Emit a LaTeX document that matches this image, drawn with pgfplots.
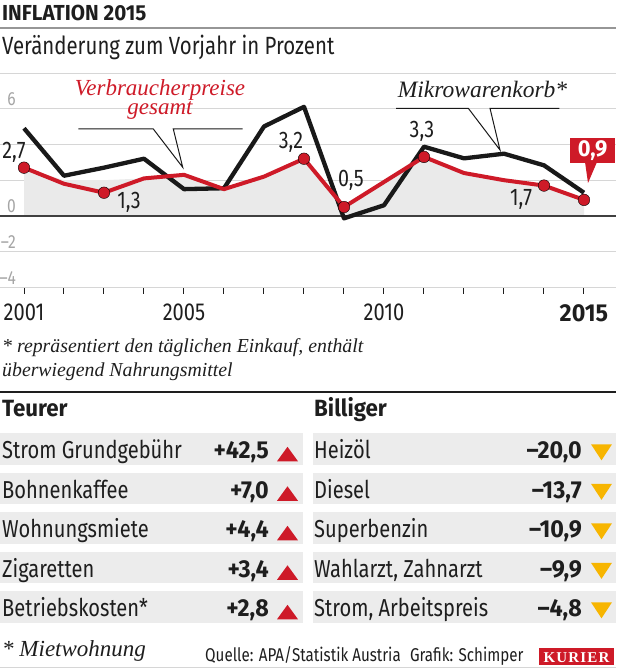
\documentclass[border=0pt]{standalone}
\usepackage{pgfplots}
\pgfplotsset{compat=1.18}
\usepackage{fontspec}
\setmainfont{Fira Sans}[FakeStretch=0.82, BoldFeatures={FakeStretch=0.95}]
\newfontfamily\sit{Liberation Serif}
\newfontfamily\kur{Liberation Serif}[LetterSpace=8]
\definecolor{kred}{RGB}{206,26,40}
\definecolor{kyel}{RGB}{247,181,0}
\definecolor{txt}{RGB}{30,30,30}
\definecolor{blk}{RGB}{25,25,25}
\definecolor{rowgray}{RGB}{236,236,236}
\definecolor{fillgray}{RGB}{234,234,234}
\definecolor{gridgray}{RGB}{214,214,214}
\definecolor{ylab}{RGB}{165,165,165}
\definecolor{linegray}{RGB}{150,150,150}
\newcommand\fs[1]{\fontsize{#1}{#1}\selectfont}
\begin{document}
\begin{tikzpicture}
\path[use as bounding box] (0,0) rectangle (616pt,668pt);
% chart
\begin{axis}[
  at={(0pt,380.4pt)}, anchor=south west,
  scale only axis, width=616pt, height=214.8pt,
  xmin=2000.4, xmax=2015.8, ymin=-4, ymax=8,
  axis line style={draw=none},
  xtick={2001,...,2015},
  xticklabels={2001,,,,2005,,,,,2010,,,,,\textbf{2015}},
  xtick pos=left, tick align=outside,
  major tick length=6pt,
  x tick style={draw=txt, line width=1pt},
  xticklabel style={font=\fs{24.5}, text=txt, anchor=north, yshift=-7pt},
  ytick={-4,-2,0,2,4,6},
  yticklabels={{\textendash4},{\textendash2},0,,,6},
  y tick style={draw=none},
  ytick pos=left,
  yticklabel style={font=\fs{19}, text=ylab, anchor=south east, inner sep=0pt, xshift=22pt, yshift=3pt},
  ymajorgrids, grid style={draw=gridgray, line width=0.8pt},
  clip=false,
]
\addplot[fill=fillgray, draw=none, forget plot] coordinates {(2001,0) (2001,2.7) (2002,2.0) (2003,2.0) (2004,2.1) (2005,2.3) (2006,1.5) (2007,2.2) (2008,3.2) (2009,0.5) (2010,1.9) (2011,3.3) (2012,2.4) (2013,2.0) (2014,1.7) (2015,0.9) (2015,0)};
\addplot[draw=black!75, line width=1.5pt, forget plot] coordinates {(2000.4,0) (2015.8,0)};
% Mikrowarenkorb
\addplot[draw=blk, line width=4.3pt, line join=round] coordinates {(2001,4.9) (2002,2.25) (2003,2.7) (2004,3.2) (2005,1.5) (2006,1.55) (2007,5.0) (2008,6.1) (2009,-0.13) (2010,0.6) (2011,3.87) (2012,3.22) (2013,3.48) (2014,2.83) (2015,1.3)};
% Verbraucherpreise
\addplot[draw=kred, line width=4pt, line join=round] coordinates {(2001,2.7) (2002,1.8) (2003,1.3) (2004,2.1) (2005,2.3) (2006,1.5) (2007,2.2) (2008,3.2) (2009,0.5) (2010,1.9) (2011,3.3) (2012,2.4) (2013,2.0) (2014,1.7) (2015,0.9)};
\addplot[only marks, mark=*, mark size=5.8pt, mark options={fill=kred, draw=none}] coordinates {(2001,2.7) (2003,1.3) (2008,3.2) (2009,0.5) (2011,3.3) (2014,1.7) (2015,0.9)};
\end{axis}
\begin{scope}[x=1pt, y=-1pt, yshift=668pt]
% header
\node[anchor=base west, inner sep=0, font=\fs{21.7}\bfseries, text=txt] at (2,20.7) {INFLATION 2015};
\draw[linegray, line width=1.5pt] (0,28) -- (616,28);
\node[anchor=base west, inner sep=0, font=\fs{24.9}, text=txt] at (2,55) {Veränderung zum Vorjahr in Prozent};
\draw[gridgray, line width=0.8pt] (0,73) -- (616,73);
% data labels
\begin{scope}[every node/.style={inner sep=0, font=\fs{24}, text=txt}]
\node at (14,152) {2,7};
\node at (129,202) {1,3};
\node at (291,142) {3,2};
\node at (351,180) {0,5};
\node at (422,131) {3,3};
\node at (521,199) {1,7};
\end{scope}
% callouts
\draw[blk, line width=1pt, line join=miter] (78.3,129) -- (153.3,129) -- (182.7,167.3) -- (173.3,129) -- (242.7,129);
\draw[blk, line width=1pt, line join=miter] (396,108.3) -- (468.3,108.3) -- (500,150) -- (490,108.3) -- (559.3,108.3);
\node[anchor=base, inner sep=0, font=\sit\itshape\fs{23}, text=kred] at (160,95.5) {Verbraucherpreise};
\node[anchor=base, inner sep=0, font=\sit\itshape\fs{23}, text=kred] at (160,115) {gesamt};
\node[anchor=base, inner sep=0, font=\sit\itshape\fs{23.5}, text=txt] at (482.5,98) {Mikrowarenkorb*};
\fill[kred] (570,138) rectangle (615,163);
\fill[kred] (585,162) -- (597,162) -- (588,183) -- cycle;
\node[inner sep=0, font=\fs{23}\bfseries, text=white] at (592.5,150.5) {0,9};
% footnote
\node[anchor=base west, inner sep=0, font=\sit\itshape\fs{19.8}, text=txt] at (2,353) {* repräsentiert den täglichen Einkauf, enthält};
\node[anchor=base west, inner sep=0, font=\sit\itshape\fs{19.8}, text=txt] at (2,376.7) {überwiegend Nahrungsmittel};
\draw[txt, line width=1.5pt] (0,392) -- (616,392);
% table
\node[anchor=base west, inner sep=0, font=\fs{23.5}\bfseries, text=txt] at (2,417) {Teurer};
\node[anchor=base west, inner sep=0, font=\fs{23.5}\bfseries, text=txt] at (314,417) {Billiger};
\foreach \i/\a/\b/\c/\d in {0/{Strom Grundgebühr}/{+42,5}/{Heizöl}/{–20,0},
                            1/{Bohnenkaffee}/{+7,0}/{Diesel}/{–13,7},
                            2/{Wohnungsmiete}/{+4,4}/{Superbenzin}/{–10,9},
                            3/{Zigaretten}/{+3,4}/{Wahlarzt, Zahnarzt}/{–9,9},
                            4/{Betriebskosten*}/{+2,8}/{Strom, Arbeitspreis}/{–4,8}} {
  \pgfmathsetmacro\t{433.3+39.5*\i}
  \fill[rowgray] (0,\t) rectangle (303,\t+31.7);
  \fill[rowgray] (313,\t) rectangle (616,\t+31.7);
  \node[anchor=base west, inner sep=0, font=\fs{24.5}, text=txt] at (2,\t+25.5) {\a};
  \node[anchor=base east, inner sep=0, font=\fs{24.5}\bfseries, text=txt] at (269,\t+25.5) {\b};
  \fill[kred] (277,\t+28) -- (298,\t+28) -- (287.5,\t+13.5) -- cycle;
  \node[anchor=base west, inner sep=0, font=\fs{24.5}, text=txt] at (314,\t+25.5) {\c};
  \node[anchor=base east, inner sep=0, font=\fs{24.5}\bfseries, text=txt] at (582,\t+25.5) {\d};
  \fill[kyel] (591,\t+11) -- (612,\t+11) -- (601.5,\t+27) -- cycle;
}
% footer
\node[anchor=base west, inner sep=0, font=\sit\itshape\fs{23}, text=txt] at (2,656.7) {* Mietwohnung};
\node[anchor=base west, inner sep=0, font=\fs{18.5}, text=txt] at (205,661.5) {Quelle: APA/Statistik Austria\enspace Grafik: Schimper};
\fill[kred] (539,648.5) rectangle (614,665.5);
\node[inner sep=0, font=\kur\bfseries\fs{15}, text=white] at (576.5,657.5) {KURIER};
\draw[gridgray, line width=1pt] (0,667.3) -- (616,667.3);
\end{scope}
\end{tikzpicture}
\end{document}
